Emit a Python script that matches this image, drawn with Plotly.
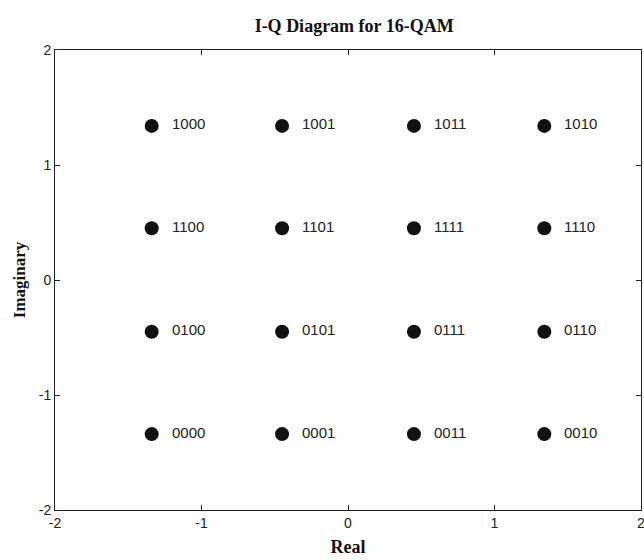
import plotly.graph_objects as go

# In-phase / quadrature values of the 16 symbols
i_vals = [-1.34, -0.45, 0.45, 1.34,
          -1.34, -0.45, 0.45, 1.34,
          -1.34, -0.45, 0.45, 1.34,
          -1.34, -0.45, 0.45, 1.34]
q_vals = [1.34, 1.34, 1.34, 1.34,
          0.45, 0.45, 0.45, 0.45,
          -0.45, -0.45, -0.45, -0.45,
          -1.34, -1.34, -1.34, -1.34]
bit_labels = ["1000", "1001", "1011", "1010",
              "1100", "1101", "1111", "1110",
              "0100", "0101", "0111", "0110",
              "0000", "0001", "0011", "0010"]
tick_vals = [-2, -1, 0, 1, 2]
tick_text = ["-2", "-1", "0", "1", "2"]

serif = "Liberation Serif, Times New Roman"
sans = "Liberation Sans, Arial"

fig = go.Figure()
fig.add_trace(go.Scatter(
    x=i_vals, y=q_vals, mode="markers",
    marker=dict(color="#111111", size=14, line=dict(width=0)),
    showlegend=False, hoverinfo="skip"))

for xi, yi, lab in zip(i_vals, q_vals, bit_labels):
    fig.add_annotation(x=xi, y=yi, text=lab, showarrow=False,
                       xanchor="left", yanchor="middle", xshift=18, yshift=2,
                       font=dict(family=sans, size=15, color="#222222"))

axis_common = dict(
    range=[-2, 2], tickvals=tick_vals, ticktext=tick_text,
    ticks="inside", ticklen=5, tickcolor="#222222",
    showline=True, linecolor="#222222", linewidth=1, mirror="ticks",
    showgrid=False, zeroline=False, ticklabeloverflow="allow",
    automargin=False,
    tickfont=dict(family=sans, size=14, color="#222222"),
)

fig.update_layout(
    width=644, height=560,
    margin=dict(l=55, r=3, t=50, b=50),
    paper_bgcolor="white", plot_bgcolor="white",
    title=dict(text="<b>I-Q Diagram for 16-QAM</b>", x=0.55, xanchor="center", y=0.955, yanchor="middle",
               font=dict(family=serif, size=18, color="#111111")),
    xaxis=dict(**axis_common,
               title=dict(text="<b>Real</b>", standoff=10,
                          font=dict(family=serif, size=18, color="#111111"))),
    yaxis=dict(**axis_common,
               title=dict(text="<b>Imaginary</b>", standoff=8,
                          font=dict(family=serif, size=17, color="#111111"))),
)

fig.write_html("out.html")
